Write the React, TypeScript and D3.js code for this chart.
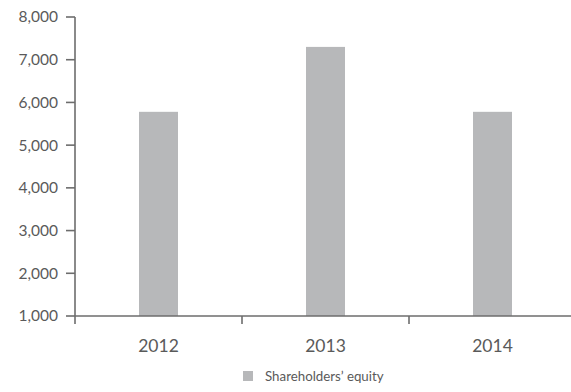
import React from "react";
import * as d3 from "d3";

const categories = ["2012", "2013", "2014"];
const equity = [5780, 7300, 5780];
const yTicks = [1000, 2000, 3000, 4000, 5000, 6000, 7000, 8000];
const seriesName = "Shareholders\u2019 equity";

export default function App() {
  const W = 571, H = 392;
  const x = d3.scaleBand<string>().domain(categories).range([75, 576]).paddingInner(0).paddingOuter(0);
  const y = d3.scaleLinear().domain([1000, 8000]).range([316, 17]);
  const barW = 39;
  const axisColor = "#6d6d6d";
  const textColor = "#5a5a5a";
  const font = "Lato, 'Open Sans', sans-serif";
  const fmt = d3.format(",");
  return (
    <svg width={W} height={H} style={{ position: "absolute", left: 0, top: 0, background: "#fff" }}>
      {categories.map((c, i) => (
        <rect key={c} x={x(c)! + x.bandwidth() / 2 - barW / 2} y={y(equity[i])} width={barW} height={y(1000) - y(equity[i])} fill="#b7b8ba" />
      ))}
      <line x1={75} x2={75} y1={y(8000)} y2={y(1000)} stroke={axisColor} strokeWidth={1.6} />
      {yTicks.map((t) => (
        <g key={t}>
          <line x1={66} x2={75} y1={y(t)} y2={y(t)} stroke={axisColor} strokeWidth={1.6} />
          <text x={58} y={y(t)} dy="0.35em" textAnchor="end" fontSize={15.5} fill={textColor} fontFamily={font}>{fmt(t)}</text>
        </g>
      ))}
      <line x1={75} x2={571} y1={y(1000)} y2={y(1000)} stroke={axisColor} strokeWidth={1.6} />
      {categories.map((c) => x(c)!).map((px, i) => (
        <line key={i} x1={px} x2={px} y1={y(1000)} y2={y(1000) + 8} stroke={axisColor} strokeWidth={1.6} />
      ))}
      {categories.map((c) => (
        <text key={c} x={x(c)! + x.bandwidth() / 2} y={352} textAnchor="middle" fontSize={17.5} fill={textColor} fontFamily={font}>{c}</text>
      ))}
      <rect x={243} y={371} width={10} height={10} fill="#b7b8ba" />
      <text x={265} y={381} fontSize={13.3} fill={textColor} fontFamily={font}>{seriesName}</text>
    </svg>
  );
}
